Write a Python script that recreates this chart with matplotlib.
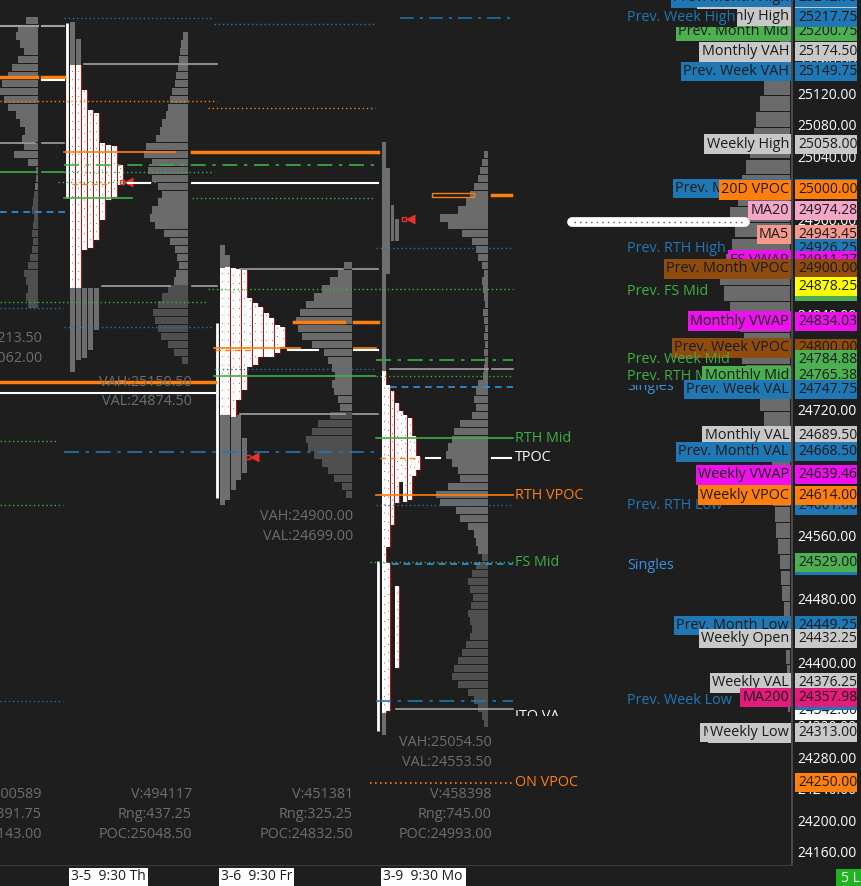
import numpy as np
import matplotlib.pyplot as plt
from matplotlib.patches import Rectangle

plt.rcParams['font.family'] = ['Open Sans', 'DejaVu Sans']

BG = '#1e1e1e'
LIGHT = '#6b6b6b'
DARK = '#4f4f4f'
FS = 10.4
COL = {'blue': '#1f78b4', 'ltblue': '#2f95e6', 'green': '#3cb043', 'orange': '#ff7f0e',
       'grey': '#a0a0a0', 'white': '#ffffff', 'badge_grey': '#c8c8c8', 'badge_green': '#4caf50',
       'pink': '#f4a6c8', 'salmon': '#f5998f', 'magenta': '#ee11ee', 'brown': '#8f4c0c',
       'yellow': '#ffff00', 'deeppink': '#e31b7b', 'singles': '#3d8fe0'}

# ---- right price scale ----
tick_prices = [24160, 24200, 24240, 24280, 24320, 24360, 24400, 24440, 24480, 24520, 24560,
               24600, 24640, 24680, 24720, 24760, 24800, 24840, 24880, 24920, 24960, 25000,
               25040, 25080, 25120, 25160, 25200, 25240]

# ---- key levels (drawn bottom to top) ----
level_names = ["Prev. Month High", "Prev. Month Mid", "Monthly High", "Prev. Week High",
               "Monthly VAH", "Prev. Week VAH", "Weekly High", "Prev. Month VAH", "20D VPOC",
               "MA20", "MA5", "Prev. RTH High", "FS VWAP", "Prev. Month VPOC", "Prev. FS Mid", "",
               "Monthly VWAP", "Prev. Week VPOC", "Prev. Week Mid", "Singles", "Prev. RTH Mid",
               "Monthly Mid", "Prev. Week VAL", "Monthly VAL", "Prev. Month VAL", "Weekly VWAP",
               "Prev. RTH Low", "Weekly VPOC", "Singles", "", "Prev. Month Low", "Weekly Open",
               "Weekly VAL", "", "Prev. Week Low", "MA200", "Monthly Low", "Weekly Low", ""]
level_prices = [25242.75, 25200.75, 25219.00, 25217.75, 25174.50, 25149.75, 25058.00, 25002.00,
                25000.00, 24974.28, 24943.45, 24926.25, 24911.27, 24900.00, 24872.00, 24878.25,
                24834.03, 24800.00, 24784.88, 24751.00, 24764.50, 24765.38, 24747.75, 24689.50,
                24668.50, 24639.46, 24601.00, 24614.00, 24525.00, 24529.00, 24449.25, 24432.25,
                24376.25, 24342.00, 24353.50, 24357.98, 24313.50, 24313.00, 24250.00]
level_kind = ['badge', 'badge', 'badge', 'textbg', 'badge', 'badge', 'badge', 'badge', 'badge',
              'badge', 'badge', 'text', 'badge', 'badge', 'text', 'none', 'badge', 'badge', 'text',
              'textnv', 'textbg', 'badge', 'badge', 'badge', 'badge', 'badge', 'text', 'badge',
              'text', 'none', 'badge', 'badge', 'badge', 'none', 'text', 'badge', 'badge', 'badge',
              'none']
level_colors = ['blue', 'badge_green', 'badge_grey', 'blue', 'badge_grey', 'blue', 'badge_grey',
                'blue', 'orange', 'pink', 'salmon', 'blue', 'magenta', 'brown', 'green', 'yellow',
                'magenta', 'brown', 'green', 'singles', 'green', 'badge_green', 'blue', 'badge_grey',
                'blue', 'magenta', 'blue', 'orange', 'singles', 'badge_green', 'blue', 'badge_grey',
                'badge_grey', 'white', 'blue', 'deeppink', 'badge_grey', 'badge_grey', 'orange']
value_colors = ['blue', 'badge_green', 'badge_grey', 'blue', 'badge_grey', 'blue', 'badge_grey',
                'blue', 'orange', 'pink', 'salmon', 'blue', 'magenta', 'brown', 'badge_green',
                'yellow', 'magenta', 'brown', 'badge_green', None, 'badge_green', 'badge_green',
                'blue', 'badge_grey', 'blue', 'magenta', 'blue', 'orange', 'blue', 'badge_green',
                'blue', 'badge_grey', 'badge_grey', 'white', 'blue', 'deeppink', 'badge_grey',
                'badge_grey', 'orange']

# ---- volume profiles (10 pt bins, bottom price first) ----
vol_prev_lo = 24850
vol_prev = [10, 12, 10, 12, 14, 10, 8, 6, 5, 6, 5, 4, 6, 5, 4, 3, 2, 2, 10, 24, 14, 16, 13, 18,
            22, 30, 34, 38, 36, 30, 26, 20, 14, 18, 22, 20, 12]
vol35_lo = 24780
vol35 = [6, 14, 20, 27, 30, 33, 35, 30, 26, 20, 14, 12, 9, 11, 13, 18, 24, 33, 38, 36, 30, 26,
         30, 36, 40, 36, 44, 42, 32, 28, 26, 22, 20, 18, 16, 13, 12, 10, 9, 8, 7, 5]
vol36_lo = 24610
vol36 = [6, 10, 18, 24, 30, 38, 44, 46, 40, 34, 22, 12, 14, 18, 20, 17, 20, 24, 28, 40, 50, 54,
         56, 52, 46, 38, 30, 22, 14, 8]
vol39_lo = 24320
vol39 = [4, 6, 10, 14, 20, 30, 36, 34, 30, 26, 22, 18, 16, 18, 20, 17, 15, 18, 20, 16,
         12, 6, 10, 12, 14, 20, 28, 32, 48, 52, 40, 28, 30, 36, 42, 40, 36, 34, 28, 16,
         12, 14, 12, 10, 5, 4, 3, 4, 3, 4, 3, 4, 5, 3, 4, 5, 6, 4, 6, 10,
         12, 16, 26, 40, 48, 30, 22, 18, 14, 10, 8, 6, 4]
# composite profile, 20 pt bins
comp_lo = 24340
comp_vol = [2, 2, 3, 4, 5, 5, 6, 8, 9, 10, 12, 14, 15, 17, 20, 18, 20, 24, 26, 30, 36, 44, 48,
            46, 50, 60, 66, 70, 64, 58, 55, 60, 52, 48, 44, 40, 36, 34, 30, 26, 18, 12, 10, 8, 6]
comp_poc = 24960

# ---- TPO columns (low, high) ----
tpo35_on = [(24770, 25212), (24785, 25191), (24787, 24876), (24797, 24876), (24823, 24876)]
tpo35_rth = [(24876, 25158), (24876, 25158), (24924, 25126), (24926, 25101), (24937, 25097),
             (24962, 25059), (24987, 25057), (24991, 25055), (25006, 25031)]
tpo36_on = [(24601, 24930), (24608, 24918), (24620, 24715), (24633, 24715), (24642, 24686)]
tpo36_rth = [(24715, 24901), (24715, 24902), (24713, 24901), (24734, 24900), (24747, 24899),
             (24776, 24863), (24778, 24857), (24789, 24852), (24789, 24844), (24789, 24838),
             (24794, 24829), (24801, 24827)]
tpo39_on = [(24310, 25061), (24894, 25028), (24935, 24981), (24935, 24963)]
tpo39_rth = [(24338, 24771), (24548, 24753), (24576, 24746), (24604, 24730), (24631, 24720),
             (24605, 24715), (24608, 24711), (24638, 24689), (24646, 24663)]
tpo39_extra = [(1, 24341, 24528), (3, 24395, 24499)]
range_bars = [(24990, 25211), (24610, 24832), (24316, 24531)]
last_marks = [25010, 24662, 24963]

# ---- reference lines: price, x from, x to, colour, style, width ----
ref_lines = [
    (25217.75, 64, 213, 'blue', 'dot', 1), (25217.75, 400, 515, 'blue', 'dashdot', 1.1),
    (25210, 214, 375, 'blue', 'dot', 1),
    (25207, 0, 38, 'grey', 'solid', 1.5), (25207, 42, 64, 'grey', 'solid', 1.5),
    (25159, 84, 217, 'grey', 'solid', 1.2),
    (25143, 0, 37, 'orange', 'solid', 2.5), (25143, 42, 64, 'orange', 'solid', 2.5),
    (25139, 42, 64, 'white', 'solid', 1.5),
    (25112, 0, 217, 'orange', 'dot', 1), (25104, 208, 375, 'orange', 'dot', 1),
    (25059, 0, 35, 'grey', 'solid', 1.2), (25059, 42, 64, 'grey', 'solid', 1.2),
    (25048.5, 64, 175, 'orange', 'solid', 1.2), (25048.5, 192, 378, 'orange', 'solid', 2.5),
    (25032, 64, 378, 'green', 'dashdot', 1.2),
    (25022, 0, 36, 'green', 'solid', 1.2), (25022, 42, 64, 'green', 'solid', 1.2),
    (25022, 64, 213, 'green', 'dot', 1),
    (25010, 58, 157, 'green', 'dot', 1),
    (25008, 72, 110, 'orange', 'dash', 1),
    (25009, 128, 150, 'white', 'solid', 1.5), (25009, 192, 378, 'white', 'solid', 1.5),
    (24990, 64, 132, 'green', 'solid', 1.2), (24990, 192, 375, 'green', 'dot', 1),
    (24971.5, 0, 67, 'ltblue', 'dash', 1.2),
    (24926.25, 376, 513, 'blue', 'dot', 1),
    (24900, 240, 343, 'grey', 'solid', 1.2), (24900, 353, 378, 'grey', 'solid', 1.2),
    (24878, 102, 170, 'grey', 'solid', 1.2), (24878, 192, 217, 'grey', 'solid', 1.2),
    (24874, 208, 513, 'green', 'dot', 1),
    (24858, 0, 207, 'green', 'dot', 1),
    (24850, 0, 63, 'blue', 'dot', 1),
    (24833, 294, 344, 'orange', 'solid', 2.5), (24833, 354, 378, 'orange', 'solid', 2.5),
    (24826, 64, 213, 'blue', 'dot', 1),
    (24800, 214, 300, 'orange', 'solid', 1.2), (24800, 354, 376, 'orange', 'solid', 1.2),
    (24797, 215, 250, 'orange', 'dash', 1),
    (24797, 288, 318, 'white', 'solid', 1.5), (24797, 354, 378, 'white', 'solid', 1.5),
    (24785, 376, 513, 'green', 'dashdot', 1.2),
    (24773, 214, 375, 'blue', 'dot', 1),
    (24773, 390, 488, 'grey', 'solid', 1.2), (24773, 492, 513, 'grey', 'solid', 1.2),
    (24765, 214, 375, 'green', 'solid', 1.2), (24765, 376, 513, 'green', 'dot', 1),
    (24757, 0, 215, 'orange', 'solid', 2.5),
    (24751, 390, 513, 'ltblue', 'dash', 1.2),
    (24743, 0, 215, 'white', 'solid', 1.5),
    (24717, 240, 345, 'grey', 'solid', 1.2), (24717, 353, 378, 'grey', 'solid', 1.2),
    (24686, 376, 513, 'green', 'solid', 1.2),
    (24682, 0, 57, 'green', 'dot', 1),
    (24668.5, 64, 375, 'blue', 'dashdot', 1.2),
    (24661, 380, 420, 'orange', 'dash', 1),
    (24661, 426, 440, 'white', 'solid', 1.5), (24661, 492, 511, 'white', 'solid', 1.5),
    (24614, 376, 513, 'orange', 'solid', 1.2),
    (24601, 376, 513, 'blue', 'dot', 1), (24601, 0, 63, 'green', 'dot', 1),
    (24529, 370, 513, 'green', 'dot', 1), (24527, 392, 513, 'ltblue', 'dash', 1.2),
    (24353.5, 0, 63, 'blue', 'dot', 1), (24353.5, 376, 513, 'blue', 'dashdot', 1.2),
    (24343, 396, 513, 'grey', 'solid', 1.2),
    (24250, 370, 513, 'orange', 'dot', 1.2),
]
STYLES = {'solid': '-', 'dot': (0, (1, 2)), 'dash': (0, (4, 3)), 'dashdot': (0, (9, 4, 2, 4))}

line_labels = [("RTH Mid", 24686, 'green'), ("TPOC", 24661, 'white'), ("RTH VPOC", 24614, 'orange'),
               ("FS Mid", 24529, 'green'), ("ON VPOC", 24250, 'orange')]

va_texts = [(42, 338, "VAH:25213.50"), (42, 358, "VAL:25062.00"),
            (192, 382, "VAH:25150.50"), (192, 401, "VAL:24874.50"),
            (353, 517, "VAH:24900.00"), (353, 536, "VAL:24699.00"),
            (492, 743, "VAH:25054.50"), (492, 763, "VAL:24553.50")]
stat_x = [42, 192, 353, 492]
stat_vol = ["V:400589", "V:494117", "V:451381", "V:458398"]
stat_rng = ["Rng:391.75", "Rng:437.25", "Rng:325.25", "Rng:745.00"]
stat_poc = ["POC:25143.00", "POC:25048.50", "POC:24832.50", "POC:24993.00"]
date_labels = ["3-5  9:30 Th", "3-6  9:30 Fr", "3-9  9:30 Mo"]

W, H = 862, 886
fig = plt.figure(figsize=(W / 100, H / 100), dpi=100, facecolor=BG)
ax = fig.add_axes([0, 21 / H, 792 / W, 865 / H])
ax.set_facecolor(BG)
ax.set_xlim(0, 792)
ax.set_ylim(24146, 25240.2)
ax.set_xticks([])
ax.set_yticks([])
for s in ['top', 'left']:
    ax.spines[s].set_visible(False)
ax.spines['right'].set_color('#4a4a4a')
ax.spines['right'].set_linewidth(1.5)
ax.spines['bottom'].set_color('#3a3a3a')


def ay(ypix):
    return 1 - ypix / 865


def profile(lo, vals, right, step, split=None, z=2):
    prices = lo + step * np.arange(len(vals))
    vals = np.array(vals, dtype=float)
    cols = [LIGHT if (split is None or p >= split) else DARK for p in prices]
    ax.barh(prices, vals, height=step * 0.92, left=right - vals, align='edge',
            color=cols, linewidth=0, zorder=z)


profile(vol_prev_lo, vol_prev, 38, 10, split=25000)
profile(vol35_lo, vol35, 188, 10, split=24876)
profile(vol36_lo, vol36, 352, 10, split=24715)
profile(vol39_lo, vol39, 488, 10, split=24531)
profile(comp_lo, comp_vol, 790, 20, z=2)
ax.plot([572, 745], [comp_poc, comp_poc], color='white', lw=7, solid_capstyle='round', zorder=3)
ax.plot([574, 745], [comp_poc, comp_poc], color='#555555', lw=1, ls=(0, (1, 3)), zorder=3)


def tpo(x0, step, w, on, rth, extra=()):
    for i, (lo, hi) in enumerate(on):
        ax.bar(x0 + i * step, hi - lo, bottom=lo, width=w, align='edge', color='#6e6e6e',
               linewidth=0, zorder=4)
    segs = [(i, lo, hi) for i, (lo, hi) in enumerate(rth)] + list(extra)
    for i, lo, hi in segs:
        x = x0 + i * step
        ax.bar(x, hi - lo, bottom=lo, width=w, align='edge', color='white', linewidth=0, zorder=5)
        ax.vlines(x + w, lo, hi, colors='#b01818', lw=0.8, zorder=5)
        ax.vlines(x + w * 0.45, lo, hi, colors='#505050', lw=0.6, linestyles=(0, (1, 9)),
                  zorder=5)


tpo(70, 6, 5, tpo35_on, tpo35_rth)
tpo(220, 5.5, 4.6, tpo36_on, tpo36_rth)
tpo(382, 4.3, 3.8, tpo39_on, tpo39_rth, tpo39_extra)

for x, (lo, hi) in zip([67, 217, 378], range_bars):
    ax.vlines(x, lo, hi, colors='white', lw=2, zorder=6)
for x, p in zip([128, 254, 410], last_marks):
    ax.plot(x, p, marker='<', color='#e8312f', ms=7, mec='none', zorder=7)
    ax.plot(x - 6, p, marker='s', mfc='none', mec='#e8312f', ms=3.5, mew=1, zorder=7)

ax.add_patch(Rectangle((432, 24990.5), 42, 5, fill=False, ec=COL['orange'], lw=1, zorder=7))
ax.plot([492, 511], [24993, 24993], color=COL['orange'], lw=2.5, zorder=7)

for p, x0, x1, c, st, lw in ref_lines:
    ax.plot([x0, x1], [p, p], color=COL[c], ls=STYLES[st], lw=lw, zorder=8)

for name, p, c in line_labels:
    ax.text(515, p, name, color=COL[c], fontsize=FS, va='center', ha='left', zorder=9)
# label whose lower part is hidden in the source chart
ax.text(515, 24343, "ITO VA", color='white', fontsize=FS, va='top', ha='left', zorder=9)
ax.add_patch(Rectangle((513, 24308), 90, 27, fc=BG, ec='none', zorder=9.5))

tr = ax.get_xaxis_transform()
for x, yp, s in va_texts:
    ax.text(x, ay(yp), s, transform=tr, color='#6e6e6e', fontsize=FS, ha='right', va='center',
            zorder=9)
for x, v, r, pc in zip(stat_x, stat_vol, stat_rng, stat_poc):
    for yp, s in [(795, v), (815, r), (834, pc)]:
        ax.text(x, ay(yp), s, transform=tr, color='#6e6e6e', fontsize=FS, ha='right',
                va='center', zorder=9)

# ---- price scale ----
for p in tick_prices:
    ax.text(797, p, f"{p:.2f}", color='white', fontsize=10, ha='left', va='center',
            clip_on=False, zorder=10)

z = 11
for name, p, kind, c, vc in zip(level_names, level_prices, level_kind, level_colors, value_colors):
    if kind == 'badge':
        ax.text(789, p, name, color='#1a1a1a', fontsize=FS, ha='right', va='center', zorder=z,
                bbox=dict(boxstyle='square,pad=0.15', fc=COL[c], ec='none'))
    elif kind in ('text', 'textnv'):
        ax.text(627, p, name, color=COL[c], fontsize=FS, ha='left', va='center', zorder=z)
    elif kind == 'textbg':
        ax.text(627, p, name, color=COL[c], fontsize=FS, ha='left', va='center', zorder=z,
                bbox=dict(boxstyle='square,pad=0.1', fc=BG, ec='none'))
    if vc is not None:
        ax.add_patch(Rectangle((795, p - 12), 62, 24, fc=COL[vc], ec='none', clip_on=False,
                               zorder=z))
        ax.text(798, p, f"{p:.2f}", color='#1a1a1a', fontsize=10, ha='left', va='center',
                clip_on=False, zorder=z + 0.5)
    z += 1

# ---- bottom time strip ----
for x, w, s in zip([69, 219, 381], [79, 75, 85], date_labels):
    fig.add_artist(Rectangle((x / W, 1 - 886 / H), w / W, 18 / H, transform=fig.transFigure,
                             fc='white', ec='none'))
    fig.text((x + 2) / W, 1 - 877 / H, s, color='#1a1a1a', fontsize=10, va='center', ha='left')
fig.add_artist(Rectangle((836 / W, 0), 26 / W, 17 / H, transform=fig.transFigure,
                         fc='#1db41d', ec='none'))
fig.text(841 / W, 1 - 878 / H, "5 L", color='white', fontsize=10, va='center', ha='left')

fig.savefig('out.png', dpi=100, facecolor=BG)
